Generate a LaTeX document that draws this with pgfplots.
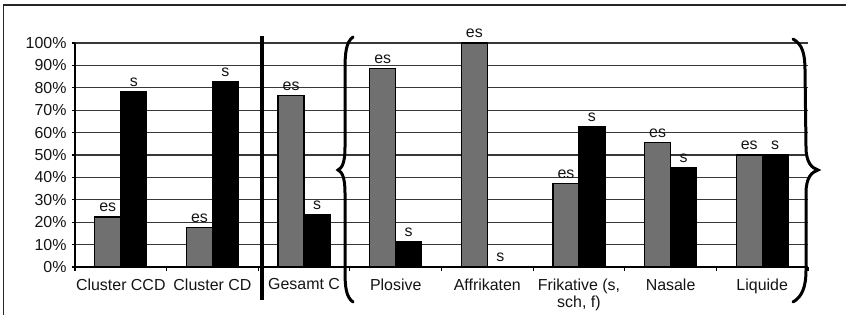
\documentclass[border=0pt]{standalone}
\usepackage{fontspec}
\setmainfont{Liberation Sans}
\usepackage{pgfplots}
\pgfplotsset{compat=1.18}
\definecolor{barGray}{RGB}{112,112,112}
\definecolor{gridc}{RGB}{55,55,55}
\definecolor{txt}{RGB}{20,20,20}
\newcommand{\ff}{\fontsize{16}{17}\selectfont}
\begin{document}
\begin{tikzpicture}[x=1bp,y=1bp,font=\ff]
\path[use as bounding box] (0,0) rectangle (846,315);
\draw[line width=1.5bp, color=black!85] (3.5,0) -- (3.5,310) -- (846,310);
\begin{axis}[
  at={(75bp,48bp)}, anchor=south west,
  scale only axis, width=733bp, height=224bp,
  xmin=-0.5, xmax=7.5, ymin=0, ymax=100,
  ybar=0pt, bar width=0.284,
  axis lines=left, axis line style={line width=1.2bp, -, black},
  ytick={0,10,...,100},
  yticklabel={\pgfmathprintnumber{\tick}\%},
  /pgf/number format/assume math mode=true,
  ymajorgrids, major grid style={line width=1.2bp, color=gridc},
  xtick={0,...,7},
  xticklabels={Cluster CCD, Cluster CD, Gesamt C, Plosive, Affrikaten, {Frikative (s,\\sch, f)}, Nasale, Liquide},
  xticklabel style={align=center, font=\ff, text=txt, yshift=-5bp},
  yticklabel style={font=\ff, text=txt, xshift=-2bp},
  minor xtick={-0.5,0.5,...,7.5},
  tick align=outside,
  major tick length=3bp, minor tick length=4bp,
  tick style={line width=1.2bp, black},
  every major x tick/.append style={draw opacity=0},
  clip=false,
  every node near coord/.append style={font=\ff, text=txt, yshift=1bp},
]
\addplot[fill=barGray, draw=black, line width=1.2bp, nodes near coords={es}]
  coordinates {(0,22.3) (1,17.6) (2,76.5) (3,88.7) (4,100) (5,37.4) (6,55.5) (7,50)};
\addplot[fill=black, draw=black, line width=1.2bp, nodes near coords={s}]
  coordinates {(0,78.1) (1,82.6) (2,23.5) (3,11.3) (4,0) (5,62.6) (6,44.5) (7,50)};
\end{axis}
% separator line
\draw[line width=4bp, black] (262,279) -- (262,15);
% left brace
\draw[line width=3bp, black, line cap=round]
  (353,278) .. controls (346,273) and (345,262) .. (345,245) -- (345,168)
  .. controls (345,152) and (342,147) .. (338,145)
  .. controls (342,143) and (345,138) .. (345,122) -- (345,45)
  .. controls (345,28) and (346,18) .. (353,13);
% right brace
\draw[line width=3bp, black, line cap=round]
  (793,276) .. controls (802,271) and (805,262) .. (805,245) -- (806,168)
  .. controls (806,152) and (812,147) .. (818,145)
  .. controls (812,143) and (806,138) .. (806,122) -- (806,45)
  .. controls (806,28) and (802,18) .. (793,13);
\end{tikzpicture}
\end{document}
